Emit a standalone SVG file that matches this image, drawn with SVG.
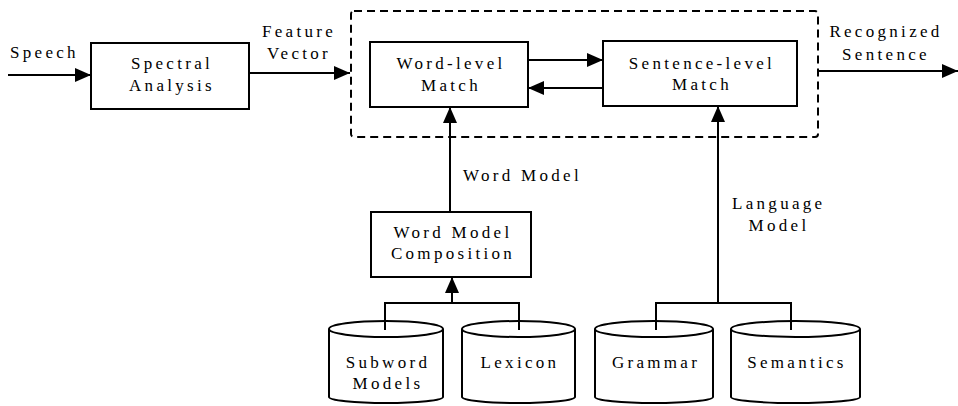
<svg xmlns="http://www.w3.org/2000/svg" width="958" height="406" viewBox="0 0 958 406">
<style>
  .box { fill: #fff; stroke: #000; stroke-width: 2; }
  .cyl { fill: #fff; stroke: #000; stroke-width: 2; }
  .dash { fill: none; stroke: #000; stroke-width: 2; stroke-dasharray: 8 5; }
  .ln { fill: none; stroke: #000; stroke-width: 2; }
  .arr { fill: none; stroke: #000; stroke-width: 2; marker-end: url(#ah); }
  text { font-family: "Liberation Serif", "Times New Roman", serif; font-size: 17px; letter-spacing: 3.3px; fill: #000; }
  .c { text-anchor: middle; }
</style>
<defs>
  <marker id="ah" viewBox="0 0 16 14" refX="16" refY="7" markerWidth="16" markerHeight="14" markerUnits="userSpaceOnUse" orient="auto">
    <path d="M0,0 L16,7 L0,14 Z" fill="#000"/>
  </marker>
</defs>
<rect width="958" height="406" fill="#fff"/>

<g id="recognizer-boundary">
  <rect class="dash" x="351" y="11" width="467" height="126" rx="3"/>
</g>

<g id="spectral-analysis">
  <rect class="box" x="91" y="43" width="158" height="66"/>
  <text class="c" x="172" y="69">Spectral</text>
  <text class="c" x="172" y="91">Analysis</text>
</g>

<g id="word-level-match">
  <rect class="box" x="370" y="42" width="158" height="65"/>
  <text class="c" x="451" y="69">Word-level</text>
  <text class="c" x="451" y="91">Match</text>
</g>

<g id="sentence-level-match">
  <rect class="box" x="603" y="41" width="194" height="65"/>
  <text class="c" x="702" y="69">Sentence-level</text>
  <text class="c" x="702" y="90">Match</text>
</g>

<g id="word-model-composition">
  <rect class="box" x="371" y="212" width="160" height="65"/>
  <text class="c" x="453" y="238">Word Model</text>
  <text class="c" x="453" y="259">Composition</text>
</g>

<g id="subword-models">
  <path class="cyl" d="M329,329 A57,8 0 0 1 443,329 L443,397 A57,6 0 0 1 329,397 Z"/>
  <path class="ln" d="M329,329 A57,8 0 0 0 443,329"/>
  <text class="c" x="388" y="368">Subword</text>
  <text class="c" x="388" y="389">Models</text>
</g>

<g id="lexicon">
  <path class="cyl" d="M462,329 A56.5,8 0 0 1 575,329 L575,397 A56.5,6 0 0 1 462,397 Z"/>
  <path class="ln" d="M462,329 A56.5,8 0 0 0 575,329"/>
  <text class="c" x="520" y="368">Lexicon</text>
</g>

<g id="grammar">
  <path class="cyl" d="M595,329 A59,8 0 0 1 713,329 L713,397 A59,6 0 0 1 595,397 Z"/>
  <path class="ln" d="M595,329 A59,8 0 0 0 713,329"/>
  <text class="c" x="656" y="368">Grammar</text>
</g>

<g id="semantics">
  <path class="cyl" d="M731,329 A64.5,8 0 0 1 860,329 L860,397 A64.5,6 0 0 1 731,397 Z"/>
  <path class="ln" d="M731,329 A64.5,8 0 0 0 860,329"/>
  <text class="c" x="797" y="368">Semantics</text>
</g>

<g id="connectors">
  <line class="arr" x1="8" y1="75" x2="91" y2="75"/>
  <line class="arr" x1="249" y1="73" x2="350" y2="73"/>
  <line class="arr" x1="528" y1="60" x2="603" y2="60"/>
  <line class="arr" x1="603" y1="88" x2="528" y2="88"/>
  <line class="arr" x1="818" y1="71" x2="958" y2="71"/>
  <line class="arr" x1="450" y1="212" x2="450" y2="107"/>
  <line class="arr" x1="718" y1="303" x2="718" y2="106"/>
  <line class="arr" x1="452" y1="303" x2="452" y2="277"/>
  <polyline class="ln" points="385,330 385,303 519,303 519,330"/>
  <polyline class="ln" points="656,330 656,303 791,303 791,330"/>
</g>

<g id="labels">
  <text x="10" y="58">Speech</text>
  <text class="c" x="299" y="37">Feature</text>
  <text class="c" x="299" y="59">Vector</text>
  <text class="c" x="886" y="37">Recognized</text>
  <text class="c" x="886" y="60">Sentence</text>
  <text x="463" y="181">Word Model</text>
  <text x="732" y="209">Language</text>
  <text class="c" x="779" y="231">Model</text>
</g>
</svg>
